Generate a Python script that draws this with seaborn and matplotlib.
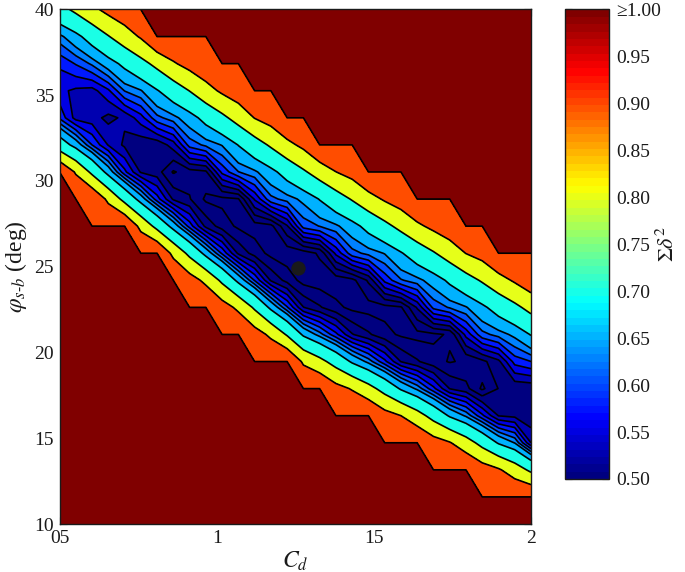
import numpy as np
import matplotlib
matplotlib.use("Agg")
import matplotlib.pyplot as plt
import seaborn as sns
from matplotlib.colors import LinearSegmentedColormap, Normalize
from matplotlib.cm import ScalarMappable

sns.set_theme(style="white")
plt.rcParams['font.family'] = ['Liberation Serif', 'DejaVu Serif']
plt.rcParams['mathtext.fontset'] = 'stix'

# ---------------- data ----------------
cd_grid = [0.5, 0.5517, 0.6034, 0.6552, 0.7069, 0.7586, 0.8103, 0.8621, 0.9138, 0.9655,
           1.0172, 1.0690, 1.1207, 1.1724, 1.2241, 1.2759, 1.3276, 1.3793, 1.4310, 1.4828,
           1.5345, 1.5862, 1.6379, 1.6897, 1.7414, 1.7931, 1.8448, 1.8966, 1.9483, 2.0]
phi_grid = [10.0, 11.5789, 13.1579, 14.7368, 16.3158, 17.8947, 19.4737, 21.0526, 22.6316, 24.2105,
            25.7895, 27.3684, 28.9474, 30.5263, 32.1053, 33.6842, 35.2632, 36.8421, 38.4211, 40.0]

M = 1.0  # cells shown as ">=1.00"
sum_delta_sq = [
    [M] * 30,
    [M] * 30,
    [M] * 26 + [0.946, 0.911, 0.851, 0.780],
    [M] * 23 + [0.941, 0.906, 0.843, 0.769, 0.692, 0.648, 0.550],
    [M] * 20 + [0.936, 0.900, 0.838, 0.766, 0.691, 0.644, 0.581, 0.524, 0.518, 0.505],
    [M] * 17 + [0.932, 0.893, 0.833, 0.765, 0.691, 0.642, 0.582, 0.524, 0.508, 0.470, 0.501, 0.503, 0.505],
    [M] * 15 + [0.885, 0.828, 0.762, 0.689, 0.639, 0.582, 0.524, 0.503, 0.484, 0.473, 0.479, 0.493, 0.518,
                0.585, 0.600],
    [M] * 12 + [0.943, 0.881, 0.790, 0.688, 0.636, 0.582, 0.527, 0.504, 0.483, 0.471, 0.467, 0.470, 0.478,
                0.558, 0.616, 0.635, 0.659, 0.704],
    [M] * 10 + [0.943, 0.880, 0.786, 0.683, 0.603, 0.526, 0.503, 0.482, 0.468, 0.465, 0.466, 0.472, 0.528,
                0.607, 0.628, 0.647, 0.686, 0.732, 0.778, 0.830],
    [M] * 8 + [0.942, 0.878, 0.781, 0.681, 0.598, 0.522, 0.491, 0.465, 0.461, 0.459, 0.467, 0.504, 0.582,
               0.622, 0.639, 0.668, 0.713, 0.762, 0.810, 0.865, 0.912, 0.960],
    [M] * 7 + [0.876, 0.776, 0.678, 0.595, 0.520, 0.489, 0.467, 0.459, 0.462, 0.479, 0.556, 0.615, 0.633,
               0.652, 0.694, 0.743, 0.792, 0.845, 0.902, 0.935] + [M] * 3,
    [M] * 5 + [0.874, 0.771, 0.675, 0.589, 0.518, 0.488, 0.470, 0.463, 0.467, 0.522, 0.610, 0.626, 0.643,
               0.676, 0.724, 0.774, 0.827, 0.882, 0.923, 0.958] + [M] * 5,
    [M] * 2 + [0.985, 0.880, 0.770, 0.672, 0.586, 0.521, 0.502, 0.470, 0.468, 0.473, 0.553, 0.617, 0.635,
               0.659, 0.703, 0.754, 0.807, 0.863, 0.911, 0.946] + [M] * 8,
    [M] * 1 + [0.890, 0.780, 0.675, 0.582, 0.522, 0.511, 0.472, 0.489, 0.495, 0.582, 0.624, 0.643, 0.680,
               0.731, 0.787, 0.843, 0.899, 0.934] + [M] * 11,
    [0.745, 0.675, 0.600, 0.548, 0.520, 0.507, 0.506, 0.537, 0.610, 0.631, 0.652, 0.702, 0.756, 0.813,
     0.874, 0.922] + [M] * 14,
    [0.595, 0.540, 0.535, 0.518, 0.530, 0.564, 0.617, 0.639, 0.673, 0.724, 0.778, 0.837, 0.903, 0.939] + [M] * 16,
    [0.556, 0.545, 0.540, 0.570, 0.626, 0.647, 0.695, 0.746, 0.802, 0.864, 0.916, 0.954] + [M] * 18,
    [0.580, 0.602, 0.630, 0.672, 0.717, 0.769, 0.826, 0.890, 0.933, 0.970] + [M] * 20,
    [0.640, 0.680, 0.735, 0.795, 0.853, 0.910] + [M] * 24,
    [0.768, 0.820, 0.877, 0.928, 0.965] + [M] * 25,
]

contour_levels = [0.45, 0.475, 0.5, 0.525, 0.55, 0.575, 0.6, 0.625, 0.65, 0.7, 0.8, 0.9, 0.99999, 1.01]
best_cd = [1.258]
best_phi = [24.9]

x_ticks = [0.5, 1.0, 1.5, 2.0]
x_tick_labels = ['05', '1', '15', '2']
y_ticks = [10, 15, 20, 25, 30, 35, 40]
cbar_ticks = [0.50, 0.55, 0.60, 0.65, 0.70, 0.75, 0.80, 0.85, 0.90, 0.95, 1.00]
cbar_tick_labels = ['0.50', '0.55', '0.60', '0.65', '0.70', '0.75', '0.80', '0.85', '0.90', '0.95', '\u22651.00']

# ---------------- style ----------------
jet_anchor = [(0.0, (0.0, 0.0, 0.5)), (0.125, (0.0, 0.0, 1.0)), (0.375, (0.0, 1.0, 1.0)),
              (0.625, (1.0, 1.0, 0.0)), (0.875, (1.0, 0.0, 0.0)), (1.0, (0.5, 0.0, 0.0))]
jet_cont = LinearSegmentedColormap.from_list('mjet', jet_anchor, N=256)
jet64 = LinearSegmentedColormap.from_list('mjet64', jet_anchor, N=64)
cnorm = Normalize(vmin=0.5, vmax=1.0, clip=True)
band_colors = [jet_cont(float(np.clip(cnorm(lv), 0, 1))) for lv in contour_levels[:-1]]

X = np.array(cd_grid)
Y = np.array(phi_grid)
Z = np.array(sum_delta_sq)

fig = plt.figure(figsize=(6.85, 5.72), dpi=100)
ax = fig.add_axes([0.0869, 0.0839, 0.6883, 0.8995])
cax = fig.add_axes([0.8248, 0.1626, 0.0642, 0.8208])

cf = ax.contourf(X, Y, Z, levels=contour_levels, colors=band_colors, antialiased=False)
ax.contour(X, Y, Z, levels=contour_levels[1:-1], colors='#000000', linewidths=1.2)
sns.scatterplot(x=best_cd, y=best_phi, ax=ax, s=95, color='k', edgecolor='k', linewidth=0.5,
                zorder=5, legend=False)

ax.set_xlim(0.5, 2.0)
ax.set_ylim(10, 40)
ax.set_xticks(x_ticks)
ax.set_xticklabels(x_tick_labels)
ax.set_yticks(y_ticks)
ax.tick_params(direction='in', top=True, right=True, bottom=True, left=True,
               length=5, width=0.8, color='k', labelsize=14, pad=4, labelcolor='k')
for sp in ax.spines.values():
    sp.set_color('k')
    sp.set_linewidth(1.0)
ax.set_xlabel(r'$C_d$', fontsize=17, color='k', labelpad=2)
ax.set_ylabel('$\\varphi_{s\u2010b}$ (deg)', fontsize=17, color='k', labelpad=4)

sm = ScalarMappable(norm=Normalize(vmin=0.5, vmax=1.0), cmap=jet64)
cbar = fig.colorbar(sm, cax=cax)
cbar.set_ticks(cbar_ticks)
cbar.set_ticklabels(cbar_tick_labels)
cax.tick_params(direction='in', left=True, right=True, length=5, width=0.8, color='k',
                labelsize=14, labelcolor='k', pad=5)
cbar.outline.set_edgecolor('k')
cbar.outline.set_linewidth(1.0)
cbar.set_label(r'$\Sigma\delta^2$', fontsize=16, color='k', labelpad=-3)

fig.savefig('out.png', dpi=100)
